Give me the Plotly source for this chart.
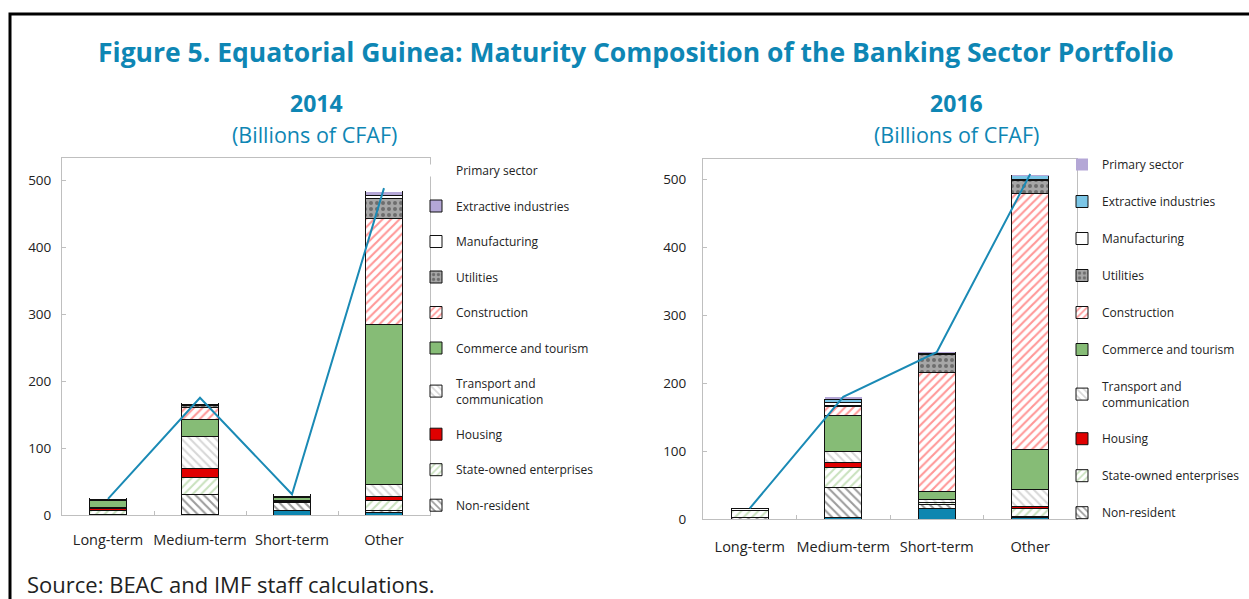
import plotly.graph_objects as go

categories = ["Long-term", "Medium-term", "Short-term", "Other"]

# Stack order bottom -> top
teal_2014 = [0.5, 1, 6, 3]
nonres_2014 = [1, 30, 12, 3]
soe_2014 = [5, 25, 2, 15]
housing_2014 = [3, 13, 0, 6]
transport_2014 = [2, 48, 1, 18]
commerce_2014 = [10, 25, 5, 240]
construction_2014 = [0.5, 18, 1, 158]
utilities_2014 = [0.5, 3, 1, 30]
manufacturing_2014 = [1, 2, 2, 4]
extractive_2014 = [1, 2, 1, 6]
primary_2014 = [0.5, 1, 0.5, 1]
total_2014 = [24, 175, 31, 488]

teal_2016 = [0, 2, 16, 2]
nonres_2016 = [2, 44, 5, 1]
soe_2016 = [10, 30, 3, 12]
housing_2016 = [0, 7, 1, 3]
transport_2016 = [0, 17, 3, 25]
commerce_2016 = [1, 53, 12, 60]
construction_2016 = [0, 12, 175, 376]
utilities_2016 = [0, 2, 27, 19]
manufacturing_2016 = [2, 5, 2, 2]
extractive_2016 = [0.5, 4, 1, 5]
primary_2016 = [0, 3, 0.5, 1]
total_2016 = [15.7, 180, 245.6, 508]

TEAL_LINE = "#1a8ab5"
TITLE_C = "#0e86b4"
FONT = "Open Sans"

fig = go.Figure()

def series_styles(year):
    ex_col = "#b4a7d6" if year == 2014 else "#7cc6e6"
    return [
        ("Other sectors", "#0e86b0", None),
        ("Non-resident", "white", ("\\", "#3a3a3a", "white")),
        ("State-owned enterprises", "white", ("/", "#93c47d", "white")),
        ("Housing", "#e00000", None),
        ("Transport and<br>communication", "white", ("\\", "#b0b0b0", "white")),
        ("Commerce and tourism", "#86bc76", None),
        ("Construction", "white", ("/", "#ff3030", "white")),
        ("Utilities", "#a6a6a6", (".", "#333333", "#a6a6a6")),
        ("Manufacturing", "white", None),
        ("Extractive industries", ex_col, None),
        ("Primary sector", "white" if year == 2014 else "#b4a7d6", None),
    ]

data = {
    2014: [teal_2014, nonres_2014, soe_2014, housing_2014, transport_2014, commerce_2014,
           construction_2014, utilities_2014, manufacturing_2014, extractive_2014, primary_2014],
    2016: [teal_2016, nonres_2016, soe_2016, housing_2016, transport_2016, commerce_2016,
           construction_2016, utilities_2016, manufacturing_2016, extractive_2016, primary_2016],
}

for year, xa, ya, lg in [(2014, "x", "y", "legend"), (2016, "x2", "y2", "legend2")]:
    for i, (name, col, pat) in enumerate(series_styles(year)):
        vals = data[year][i]
        marker = dict(color=col, line=dict(color="#111111", width=1))
        if name == "Primary sector":
            marker["line"] = dict(color=col, width=0)
        if pat:
            marker["pattern"] = dict(shape=pat[0], fgcolor=pat[1], bgcolor=pat[2],
                                     size=6, solidity=0.35, fillmode="overlay")
        showleg = name != "Other sectors"
        fig.add_trace(go.Bar(
            x=categories, y=vals, name=name, marker=marker, width=0.4,
            xaxis=xa, yaxis=ya, legend=lg, showlegend=showleg,
            legendgroup=f"{name}{year}", legendrank=1000 - 10 * i,
        ))
    tot = total_2014 if year == 2014 else total_2016
    fig.add_trace(go.Scatter(
        x=categories, y=tot, mode="lines", line=dict(color=TEAL_LINE, width=2),
        xaxis=xa, yaxis=ya, showlegend=False, name="Total",
    ))

W, H = 1249, 599
def px_x(p): return p / W
def px_y(p): return 1 - p / H

base = dict(showline=True, linecolor="#bfbfbf", linewidth=1, mirror=True,
            showgrid=False, zeroline=False, ticks="inside", tickcolor="#bfbfbf",
            ticklen=4, automargin=False)
xfont = dict(family=FONT, size=14.5, color="#222222")
yfont = dict(family=FONT, size=13.5, color="#222222")
legfont = dict(family=FONT, size=12, color="#222222")

def ann(text, x, y, size, color, xanchor="center", bold=False):
    return dict(text=f"<b>{text}</b>" if bold else text, x=px_x(x), y=px_y(y),
                xref="paper", yref="paper", xanchor=xanchor, yanchor="middle",
                showarrow=False, font=dict(family=FONT, size=size, color=color))

fig.update_layout(
    width=W, height=H, barmode="stack", plot_bgcolor="white", paper_bgcolor="white",
    margin=dict(l=0, r=0, t=0, b=0, autoexpand=False),
    font=dict(family=FONT, color="#222222"),
    xaxis=dict(domain=[px_x(62), px_x(430)], tickson="boundaries", anchor="y", tickangle=0,
               tickfont=xfont, ticklabelstandoff=12, **base),
    yaxis=dict(domain=[px_y(515), px_y(158)], range=[0, 533], dtick=100, anchor="x",
               tickfont=yfont, ticklabelstandoff=7, **base),
    xaxis2=dict(domain=[px_x(703), px_x(1077)], tickson="boundaries", anchor="y2", tickangle=0,
                tickfont=xfont, ticklabelstandoff=15, **base),
    yaxis2=dict(domain=[px_y(519), px_y(159)], range=[0, 530], dtick=100, anchor="x2",
                tickfont=yfont, ticklabelstandoff=13, **base),
    legend=dict(x=px_x(416), y=px_y(156), xanchor="left", yanchor="top",
                traceorder="grouped", tracegroupgap=16.5, bgcolor="rgba(0,0,0,0)",
                font=legfont, itemwidth=30),
    legend2=dict(x=px_x(1062), y=px_y(150), xanchor="left", yanchor="top",
                 traceorder="grouped", tracegroupgap=18, bgcolor="rgba(0,0,0,0)",
                 font=legfont, itemwidth=30),
    shapes=[dict(type="rect", xref="paper", yref="paper", x0=px_x(10), x1=1.05,
                 y0=-0.2, y1=px_y(14), line=dict(color="black", width=3))],
    annotations=[
        ann("Figure 5. Equatorial Guinea: Maturity Composition of the Banking Sector Portfolio",
            636, 52, 26.5, TITLE_C, bold=True),
        ann("2014", 316, 103, 23, TITLE_C, bold=True),
        ann("(Billions of CFAF)", 314, 134, 21.5, TITLE_C),
        ann("2016", 956, 103, 23, TITLE_C, bold=True),
        ann("(Billions of CFAF)", 956, 134, 21.5, TITLE_C),
        ann("Source: BEAC and IMF staff calculations.", 25, 584, 22, "#222222", xanchor="left"),
    ],
)

fig.write_html("out.html", config={"displayModeBar": False},
               post_script="document.body.style.margin='0';document.body.style.padding='0';")
